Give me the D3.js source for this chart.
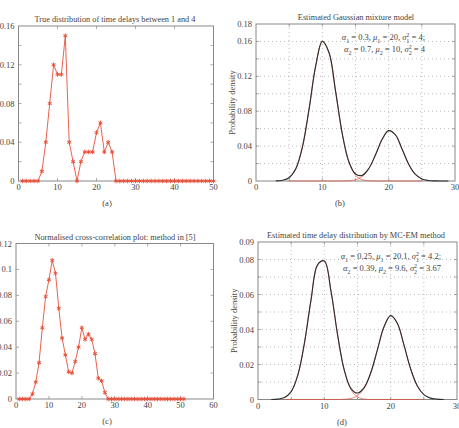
<!DOCTYPE html>
<html>
<head>
<meta charset="utf-8">
<script src="https://cdn.jsdelivr.net/npm/d3@7"></script>
<style>
  body { margin: 0; background: #fff; }
  svg { display: block; }
  text { font-family: "Liberation Serif", "DejaVu Serif", serif; fill: #444; }
</style>
</head>
<body>
<div id="chart"></div>
<script>
// (a) true distribution of delays, lag 1..50
const trueDelay = [0, 0, 0, 0, 0, 0.01, 0.04, 0.08, 0.12, 0.11, 0.11, 0.15, 0.04, 0.02, 0, 0.02, 0.03, 0.03, 0.03, 0.05,
  0.06, 0.03, 0.04, 0.03, 0, 0, 0, 0, 0, 0, 0, 0, 0, 0, 0, 0, 0, 0, 0, 0,
  0, 0, 0, 0, 0, 0, 0, 0, 0, 0];

// (c) normalised cross-correlation, lag 1..51
const crossCorr = [0, 0, 0, 0, 0.004, 0.013, 0.028, 0.055, 0.079, 0.092, 0.107, 0.097, 0.070, 0.047, 0.034, 0.021, 0.020, 0.029, 0.040, 0.055,
  0.046, 0.050, 0.046, 0.035, 0.016, 0.014, 0.005, 0, 0, 0, 0, 0, 0, 0, 0, 0, 0, 0, 0, 0,
  0, 0, 0, 0, 0, 0, 0, 0, 0, 0, 0];

// (b) gaussian mixture, mixture sampled x = 3..29, components x = 5..25
const gmmStartB = 3, compStartB = 5;
const gmmMixB = [0.0001, 0.0008, 0.0038, 0.0140, 0.0390, 0.0824, 0.1319, 0.1601, 0.1474, 0.1028, 0.0544, 0.0221, 0.0080, 0.0065,
  0.0143, 0.0297, 0.0475, 0.0577, 0.0531, 0.0370, 0.0196, 0.0078, 0.0024, 0.0006, 0.0001, 0, 0];
const gmmComp1B = [0.0038, 0.0140, 0.0390, 0.0824, 0.1319, 0.1601, 0.1474, 0.1028, 0.0544, 0.0218, 0.0066, 0.0015, 0.0003,
  0, 0, 0, 0, 0, 0, 0, 0];
const gmmComp2B = [0, 0, 0, 0, 0, 0, 0, 0, 0, 0.0003, 0.0014, 0.0050, 0.0140, 0.0297, 0.0475, 0.0577, 0.0531, 0.0370, 0.0196,
  0.0078, 0.0024];

// (d) MC-EM estimate, mixture x = 2..28, components x = 4..25
const gmmStartD = 2, compStartD = 4;
const gmmMixD = [0, 0.0002, 0.0011, 0.0045, 0.0139, 0.0322, 0.0571, 0.0771, 0.0792, 0.0620, 0.0369, 0.0169, 0.0064, 0.0037,
  0.0068, 0.0153, 0.0284, 0.0416, 0.0479, 0.0436, 0.0312, 0.0176, 0.0079, 0.0028, 0.0008, 0.0002, 0];
const gmmComp1D = [0.0011, 0.0045, 0.0139, 0.0322, 0.0571, 0.0771, 0.0792, 0.0620, 0.0369, 0.0168, 0.0058, 0.0015, 0.0003,
  0, 0, 0, 0, 0, 0, 0, 0, 0];
const gmmComp2D = [0, 0, 0, 0, 0, 0, 0, 0, 0, 0.0001, 0.0006, 0.0022, 0.0065, 0.0153, 0.0284, 0.0416, 0.0479, 0.0436, 0.0312,
  0.0176, 0.0079, 0.0028];

const titles = ['True distribution of time delays between 1 and 4', 'Estimated Gaussian mixture model',
  'Normalised cross-correlation plot: method in [5]', 'Estimated time delay distribution by MC-EM method'];
const captions = ['(a)', '(b)', '(c)', '(d)'];

const red = '#e8503a';
const axisGray = '#888';

const svg = d3.select('#chart').append('svg')
  .attr('width', 459)
  .attr('height', 428);

function fmt(d) {
  return d === 0 ? '0' : String(+d.toFixed(3));
}

function panel(o) {
  const x = d3.scaleLinear().domain(o.xDomain).range([o.left, o.right]);
  const y = d3.scaleLinear().domain(o.yDomain).range([o.bottom, o.top]);
  const g = svg.append('g');

  // dotted grid
  if (o.grid) {
    g.selectAll('.gx').data(o.xGrid).enter().append('line')
      .attr('x1', d => x(d)).attr('x2', d => x(d))
      .attr('y1', o.top).attr('y2', o.bottom)
      .attr('stroke', '#aaa').attr('stroke-width', 0.8).attr('stroke-dasharray', '1,3');
    g.selectAll('.gy').data(o.yGrid).enter().append('line')
      .attr('x1', o.left).attr('x2', o.right)
      .attr('y1', d => y(d)).attr('y2', d => y(d))
      .attr('stroke', '#aaa').attr('stroke-width', 0.8).attr('stroke-dasharray', '1,3');
  }

  // inside tick marks on all four sides
  const tl = 3;
  g.selectAll('.tyl').data(o.yMinor).enter().append('line')
    .attr('x1', o.left).attr('x2', o.left + tl)
    .attr('y1', d => y(d)).attr('y2', d => y(d))
    .attr('stroke', axisGray).attr('stroke-width', 0.7);
  g.selectAll('.tyr').data(o.yMinor).enter().append('line')
    .attr('x1', o.right).attr('x2', o.right - tl)
    .attr('y1', d => y(d)).attr('y2', d => y(d))
    .attr('stroke', axisGray).attr('stroke-width', 0.7);
  g.selectAll('.txb').data(o.xMinor).enter().append('line')
    .attr('x1', d => x(d)).attr('x2', d => x(d))
    .attr('y1', o.bottom).attr('y2', o.bottom - tl)
    .attr('stroke', axisGray).attr('stroke-width', 0.7);
  g.selectAll('.txt').data(o.xMinor).enter().append('line')
    .attr('x1', d => x(d)).attr('x2', d => x(d))
    .attr('y1', o.top).attr('y2', o.top + tl)
    .attr('stroke', axisGray).attr('stroke-width', 0.7);

  // frame
  g.append('rect')
    .attr('x', o.left).attr('y', o.top)
    .attr('width', o.right - o.left).attr('height', o.bottom - o.top)
    .attr('fill', 'none').attr('stroke', axisGray).attr('stroke-width', 1);

  // tick labels
  g.selectAll('.lx').data(o.xTicks).enter().append('text')
    .attr('x', d => x(d)).attr('y', o.bottom + 9)
    .attr('text-anchor', 'middle').attr('font-size', 8.5)
    .text(d => d);
  g.selectAll('.ly').data(o.yTicks).enter().append('text')
    .attr('x', o.left - 4).attr('y', d => y(d) + 3)
    .attr('text-anchor', 'end').attr('font-size', 8.5)
    .text(fmt);

  g.append('text')
    .attr('x', o.titleX).attr('y', o.top - 4)
    .attr('text-anchor', 'middle').attr('font-size', 8.3)
    .text(o.title);
  g.append('text')
    .attr('x', o.capX).attr('y', o.bottom + 25)
    .attr('text-anchor', 'middle').attr('font-size', 8.5)
    .text(o.caption);

  if (o.yLabel) {
    g.append('text')
      .attr('transform', `translate(${o.left - 21},${(o.top + o.bottom) / 2}) rotate(-90)`)
      .attr('text-anchor', 'middle').attr('font-size', 8.5)
      .text(o.yLabel);
  }

  const clipId = 'clip' + o.caption.replace(/\W/g, '');
  svg.append('clipPath').attr('id', clipId).append('rect')
    .attr('x', o.left).attr('y', o.top - 2)
    .attr('width', o.right - o.left).attr('height', o.bottom - o.top + 3);
  const plot = g.append('g').attr('clip-path', `url(#${clipId})`);
  return { x, y, g, plot };
}

function stemSeries(p, values) {
  const line = d3.line().x((d, i) => p.x(i + 1)).y(d => p.y(d));
  p.plot.append('path').datum(values)
    .attr('d', line).attr('fill', 'none')
    .attr('stroke', red).attr('stroke-width', 0.9);
  const sym = d3.symbol(d3.symbolAsterisk, 14);
  p.g.selectAll('.mk').data(values).enter().append('path')
    .attr('transform', (d, i) => `translate(${p.x(i + 1)},${p.y(d)})`)
    .attr('d', sym).attr('fill', 'none')
    .attr('stroke', red).attr('stroke-width', 1);
}

function curve(p, values, start, color, width) {
  const line = d3.line()
    .x((d, i) => p.x(start + i)).y(d => p.y(d))
    .curve(d3.curveCatmullRom.alpha(0.5));
  p.plot.append('path').datum(values)
    .attr('d', line).attr('fill', 'none')
    .attr('stroke', color).attr('stroke-width', width);
}

function annot(p, xRight, y1, lines) {
  lines.forEach((parts, k) => {
    const t = p.g.append('text')
      .attr('x', xRight).attr('y', y1 + k * 12)
      .attr('text-anchor', 'end').attr('font-size', 8.5);
    parts.forEach(s => {
      const ts = t.append('tspan').text(s.t);
      if (s.i) ts.attr('font-style', 'italic');
      if (s.sub) ts.attr('baseline-shift', 'sub').attr('font-size', 6);
      if (s.sup) ts.attr('baseline-shift', 'super').attr('font-size', 6);
      if (s.subsup) ts.attr('dx', -3).attr('baseline-shift', 'sub').attr('font-size', 6);
    });
  });
}

function paramLine(a, ia, mu, im, s2, is, tail) {
  return [
    { t: 'α', i: true }, { t: ia, sub: true }, { t: ' = ' + a + ', ' },
    { t: 'μ', i: true }, { t: im, sub: true }, { t: ' = ' + mu + ', ' },
    { t: 'σ', i: true }, { t: '2', sup: true }, { t: is, subsup: true }, { t: ' = ' + s2 + tail }
  ];
}

// (a)
const pa = panel({
  left: 18.5, right: 213.5, top: 26, bottom: 181,
  xDomain: [0, 50], yDomain: [0, 0.16],
  xTicks: [0, 10, 20, 30, 40, 50], xMinor: [10, 20, 30, 40],
  yTicks: [0, 0.04, 0.08, 0.12, 0.16], yMinor: [0.02, 0.04, 0.06, 0.08, 0.1, 0.12, 0.14],
  title: titles[0], titleX: 115, caption: captions[0], capX: 107
});
stemSeries(pa, trueDelay);

// (b)
const pb = panel({
  left: 256, right: 455, top: 24, bottom: 181,
  xDomain: [0, 30], yDomain: [0, 0.18],
  xTicks: [0, 10, 20, 30], xMinor: [5, 10, 15, 20, 25],
  yTicks: [0, 0.04, 0.08, 0.12, 0.16, 0.18], yMinor: [0.02, 0.04, 0.06, 0.08, 0.1, 0.12, 0.14, 0.16],
  grid: true, xGrid: [5, 10, 15, 20, 25], yGrid: [0.02, 0.04, 0.06, 0.08, 0.1, 0.12, 0.14, 0.16],
  title: titles[1], titleX: 356, caption: captions[1], capX: 340,
  yLabel: 'Probability density'
});
curve(pb, gmmComp1B, compStartB, red, 0.7);
curve(pb, gmmComp2B, compStartB, red, 0.7);
curve(pb, gmmMixB, gmmStartB, '#2e2e2e', 1.15);
annot(pb, 425, 40, [
  paramLine('0.3', '1', '20', '1', '4', '1', ';'),
  paramLine('0.7', '2', '10', '2', '4', '2', '')
]);

// (c)
const pc = panel({
  left: 16, right: 213.5, top: 243.5, bottom: 399,
  xDomain: [0, 60], yDomain: [0, 0.12],
  xTicks: [0, 10, 20, 30, 40, 50, 60], xMinor: [10, 20, 30, 40, 50],
  yTicks: [0, 0.02, 0.04, 0.06, 0.08, 0.1, 0.12], yMinor: [0.02, 0.04, 0.06, 0.08, 0.1],
  title: titles[2], titleX: 115, caption: captions[2], capX: 107
});
stemSeries(pc, crossCorr);

// (d)
const pd = panel({
  left: 258, right: 457, top: 242, bottom: 399.5,
  xDomain: [0, 30], yDomain: [0, 0.09],
  xTicks: [0, 10, 20, 30], xMinor: [5, 10, 15, 20, 25],
  yTicks: [0, 0.02, 0.04, 0.06, 0.08, 0.09], yMinor: [0.01, 0.02, 0.03, 0.04, 0.05, 0.06, 0.07, 0.08],
  grid: true, xGrid: [5, 10, 15, 20, 25], yGrid: [0.01, 0.02, 0.03, 0.04, 0.05, 0.06, 0.07, 0.08],
  title: titles[3], titleX: 356, caption: captions[3], capX: 342,
  yLabel: 'Probability density'
});
curve(pd, gmmComp1D, compStartD, red, 0.7);
curve(pd, gmmComp2D, compStartD, red, 0.7);
curve(pd, gmmMixD, gmmStartD, '#2e2e2e', 1.15);
annot(pd, 441, 259, [
  paramLine('0.25', '1', '20.1', '1', '4.2', '1', ';'),
  paramLine('0.39', '2', '9.6', '2', '3.67', '2', '')
]);
</script>
</body>
</html>
